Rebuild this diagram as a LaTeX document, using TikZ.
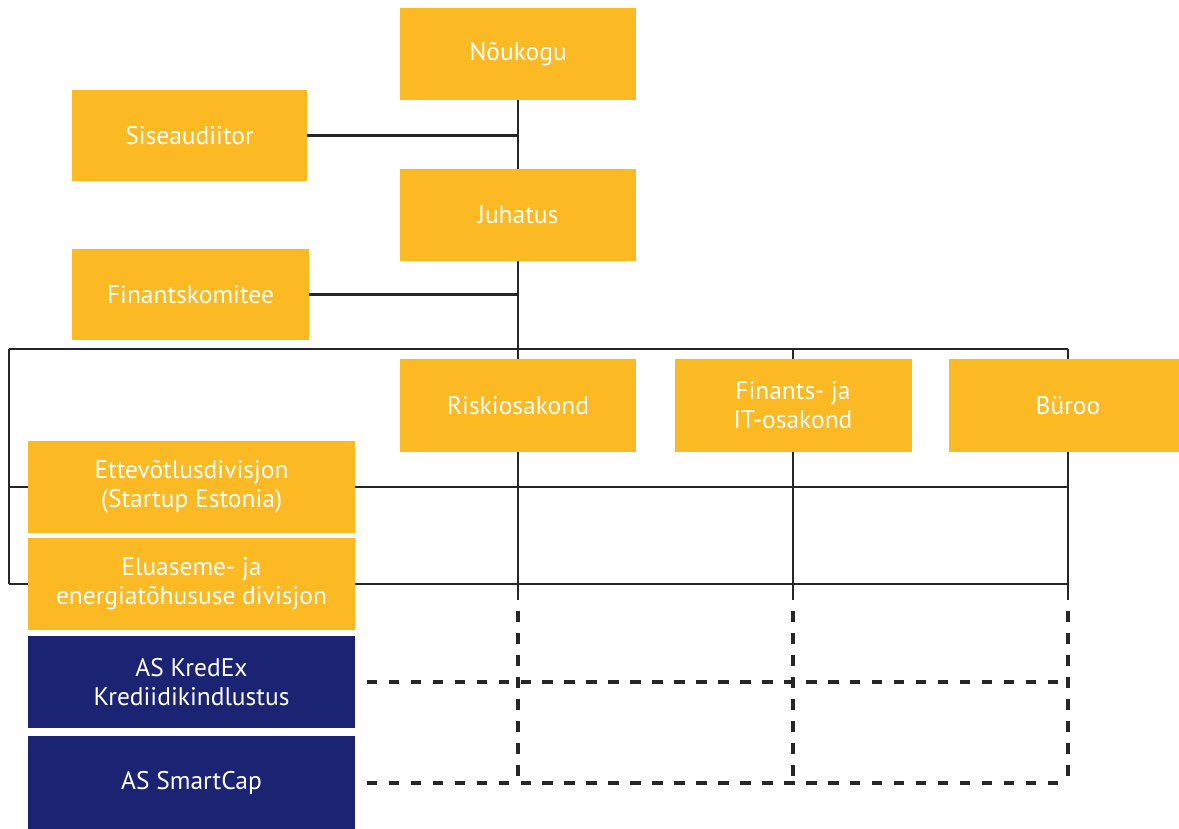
\documentclass[tikz,border=0pt]{standalone}
\usepackage{fontspec}
\setmainfont{PT Sans}
\usetikzlibrary{backgrounds}
\definecolor{kyellow}{HTML}{FBB923}
\definecolor{kblue}{HTML}{1B2473}
\definecolor{kline}{HTML}{262626}
\begin{document}
\begin{tikzpicture}[x=0.02cm,y=-0.02cm,
  wh/.style 2 args={minimum width=#1*0.02cm, minimum height=#2*0.02cm},
  ybox/.style={fill=kyellow, text=white, inner sep=0pt, align=center,
    font=\fontsize{14.5}{16.5}\selectfont},
  bbox/.style={ybox, fill=kblue},
  conn/.style={draw=kline, line width=1.4pt},
  dconn/.style={draw=kline, line width=1.8pt, dash pattern=on 6pt off 6.5pt, dash phase=6pt}]
\useasboundingbox (0,0) rectangle (1179,828);
\clip (0,0) rectangle (1179,828);
% boxes
\node[ybox, wh={236}{92}] (nou) at (518,54) {Nõukogu};
\node[ybox, wh={235}{91}] (sise) at (189.5,135.5) {Siseaudiitor};
\node[ybox, wh={236}{92}] (juh) at (518,215) {Juhatus};
\node[ybox, wh={237}{91}] (fin) at (190.5,294.5) {Finantskomitee};
\node[ybox, wh={236}{93}] (risk) at (518,405.5) {Riskiosakond};
\node[ybox, wh={237}{93}] (fit) at (793,405.5) {Finants- ja\\IT-osakond};
\node[ybox, wh={238}{93}] (bur) at (1068,405.5) {Büroo};
\node[ybox, wh={327}{92}] (ett) at (191.5,487) {Ettevõtlusdivisjon\\(Startup Estonia)};
\node[ybox, wh={327}{92}] (elu) at (191.5,584) {Eluaseme- ja\\energiatõhususe divisjon};
\node[bbox, wh={327}{92}] (kred) at (191.5,682) {AS KredEx\\Krediidikindlustus};
\node[bbox, wh={327}{94}] (smart) at (191.5,783) {AS SmartCap};
\coordinate (barL) at (9,349);
\coordinate (solidEnd) at (0,600);
% connectors
\begin{pgfonlayer}{background}
\draw[conn] (nou.south) -- (juh.north);
\draw[conn] (sise.east) -- (sise.east -| juh.north);
\draw[conn] (fin.east) -- (fin.east -| juh.south);
\draw[conn] (juh.south) -- (juh.south |- barL);
\draw[conn] (barL) -- (barL -| bur.north);
\draw[conn] (risk.north) -- (risk.north |- barL);
\draw[conn] (fit.north) -- (fit.north |- barL);
\draw[conn] (bur.north) -- (bur.north |- barL);
\draw[conn] (barL) -- (barL |- elu.center);
\draw[conn] (barL |- ett.center) -- (ett.center -| bur.south);
\draw[conn] (barL |- elu.center) -- (elu.center -| bur.south);
\draw[conn] (risk.south) -- (risk.south |- solidEnd);
\draw[conn] (fit.south) -- (fit.south |- solidEnd);
\draw[conn] (bur.south) -- (bur.south |- solidEnd);
\draw[dconn] (risk.south |- solidEnd) -- (risk.south |- smart.center);
\draw[dconn] (fit.south |- solidEnd) -- (fit.south |- smart.center);
\draw[dconn] (bur.south |- solidEnd) -- (bur.south |- smart.center);
\draw[dconn] (kred.east) -- (kred.east -| bur.south);
\draw[dconn] (smart.east) -- (smart.east -| bur.south);
\end{pgfonlayer}
\end{tikzpicture}
\end{document}
